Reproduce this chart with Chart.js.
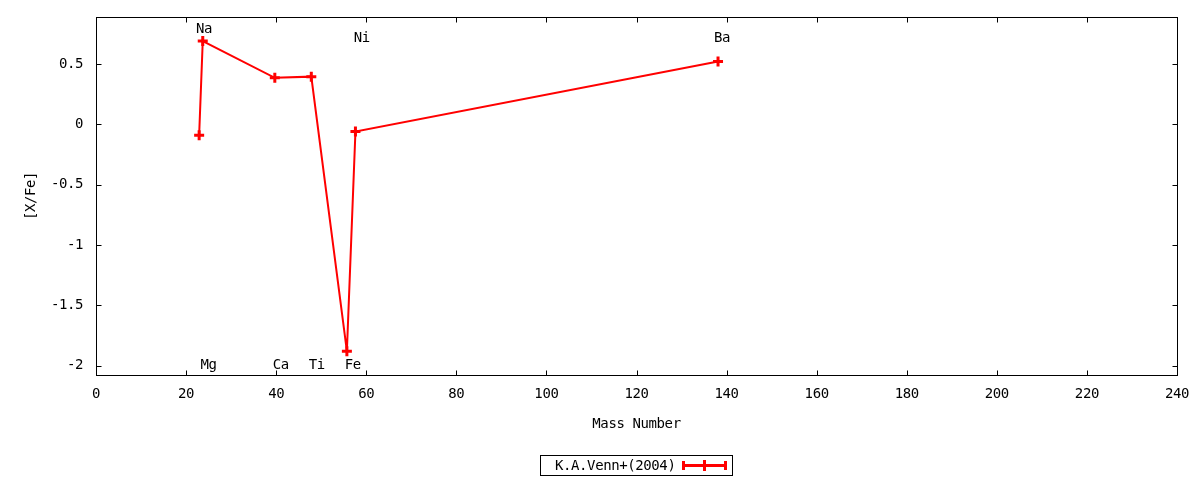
<!DOCTYPE html>
<html>
<head>
<meta charset="utf-8">
<script src="https://cdn.jsdelivr.net/npm/chart.js@4/dist/chart.umd.min.js"></script>
<style>
  html, body { margin: 0; padding: 0; background: #fff; }
  #wrap { width: 1200px; height: 480px; }
</style>
</head>
<body>
<div id="wrap"><canvas id="c" width="1200" height="480"></canvas></div>
<script>
// ---- data ----
const seriesLabel = 'K.A.Venn+(2004)';
const massNumber = [22.9, 23.7, 39.7, 47.8, 55.7, 57.6, 138.1];
const xFe = [-0.09, 0.69, 0.385, 0.395, -1.88, -0.06, 0.52];

const elementNames = ['Na', 'Mg', 'Ca', 'Ti', 'Fe', 'Ni', 'Ba'];
const elementLabelX = [24, 25, 41, 49, 57, 59, 139];
const elementLabelY = [0.8, -1.99, -1.99, -1.99, -1.99, 0.72, 0.72];

const xTicks = [0, 20, 40, 60, 80, 100, 120, 140, 160, 180, 200, 220, 240];
const yTicks = [-2, -1.5, -1, -0.5, 0, 0.5];

const xTitle = 'Mass Number';
const yTitle = '[X/Fe]';

const FONT = '"DejaVu Sans Mono", monospace';
const FS = 14;
const LS = '-0.4px';
const RED = '#ff0000';

const framePlugin = {
  id: 'frame',
  beforeLayout(chart) { try { chart.ctx.letterSpacing = LS; } catch (e) {} },
  beforeDraw(chart) { try { chart.ctx.letterSpacing = LS; } catch (e) {} },
  afterDatasetsDraw(chart) {
    const {ctx, chartArea: a, scales: {x, y}} = chart;
    ctx.save();
    try { ctx.letterSpacing = LS; } catch (e) {}
    ctx.strokeStyle = '#000';
    ctx.lineWidth = 1;
    ctx.strokeRect(a.left + 0.5, a.top + 0.5, a.right - a.left, a.bottom - a.top);
    const tl = 5;
    ctx.beginPath();
    xTicks.forEach(v => {
      const px = Math.round(x.getPixelForValue(v)) + 0.5;
      ctx.moveTo(px, a.bottom + 0.5); ctx.lineTo(px, a.bottom + 0.5 - tl);
      ctx.moveTo(px, a.top + 0.5); ctx.lineTo(px, a.top + 0.5 + tl);
    });
    yTicks.forEach(v => {
      const py = Math.round(y.getPixelForValue(v)) + 0.5;
      ctx.moveTo(a.left + 0.5, py); ctx.lineTo(a.left + 0.5 + tl, py);
      ctx.moveTo(a.right + 0.5, py); ctx.lineTo(a.right + 0.5 - tl, py);
    });
    ctx.stroke();

    // element labels
    ctx.fillStyle = '#000';
    ctx.font = FS + 'px ' + FONT;
    ctx.textAlign = 'center';
    ctx.textBaseline = 'alphabetic';
    elementNames.forEach((n, i) => {
      const px = x.getPixelForValue(elementLabelX[i]);
      const py = y.getPixelForValue(elementLabelY[i]) + 5;
      ctx.fillText(n, px, py);
    });

    // legend
    const ds = chart.data.datasets[0];
    ctx.strokeStyle = '#000';
    ctx.lineWidth = 1;
    ctx.strokeRect(540.5, 455.5, 192, 20);
    ctx.textAlign = 'left';
    ctx.textBaseline = 'middle';
    ctx.fillStyle = '#000';
    ctx.fillText(ds.label, 555, 466);
    ctx.strokeStyle = ds.borderColor;
    ctx.lineWidth = 3;
    ctx.beginPath();
    ctx.moveTo(683, 465.5); ctx.lineTo(726, 465.5);
    ctx.moveTo(683.5, 461); ctx.lineTo(683.5, 470);
    ctx.moveTo(725.5, 461); ctx.lineTo(725.5, 470);
    ctx.moveTo(704.5, 460); ctx.lineTo(704.5, 471);
    ctx.moveTo(699, 465.5); ctx.lineTo(710, 465.5);
    ctx.stroke();
    ctx.restore();
  }
};

Chart.defaults.font.family = FONT;
Chart.defaults.font.size = FS;
Chart.defaults.color = '#000';

function zeroPad(s) { s.paddingTop = 0; s.paddingBottom = 0; s.paddingLeft = 0; s.paddingRight = 0; }

new Chart(document.getElementById('c'), {
  type: 'line',
  data: {
    datasets: [{
      label: seriesLabel,
      data: massNumber.map((m, i) => ({x: m, y: xFe[i]})),
      borderColor: RED,
      backgroundColor: RED,
      borderWidth: 2,
      pointStyle: 'cross',
      pointRadius: 5,
      pointBorderWidth: 3,
      pointBorderColor: RED,
      pointHoverRadius: 5,
      tension: 0,
      fill: false
    }]
  },
  options: {
    responsive: false,
    animation: false,
    devicePixelRatio: 1,
    layout: { padding: { top: 17, right: 23, left: 0, bottom: 0 } },
    plugins: { legend: { display: false }, tooltip: { enabled: false }, title: { display: false } },
    scales: {
      x: {
        type: 'linear',
        min: 0, max: 240,
        grid: { display: false, drawTicks: false },
        border: { display: false },
        ticks: { padding: 11, maxRotation: 0, autoSkip: false, callback: v => String(v) },
        afterBuildTicks: s => { s.ticks = xTicks.map(v => ({value: v})); },
        afterFit: s => { s.height = 105; zeroPad(s); },
        title: { display: true, text: xTitle, padding: { top: 0, bottom: 47.5 } }
      },
      y: {
        type: 'linear',
        min: -2.077, max: 0.889,
        grid: { display: false, drawTicks: false },
        border: { display: false },
        ticks: { padding: 13, autoSkip: false, callback: v => String(v) },
        afterBuildTicks: s => { s.ticks = yTicks.map(v => ({value: v})); },
        afterFit: s => { s.width = 96; zeroPad(s); },
        title: { display: true, text: yTitle, padding: { top: 23, bottom: 0 } }
      }
    }
  },
  plugins: [framePlugin]
});
</script>
</body>
</html>
